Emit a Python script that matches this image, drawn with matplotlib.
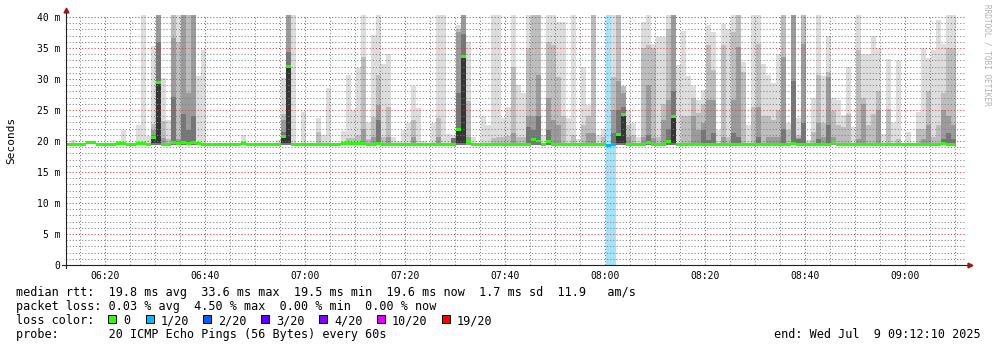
import numpy as np
import matplotlib
matplotlib.use("Agg")
import matplotlib.pyplot as plt
from matplotlib.ticker import MultipleLocator, FuncFormatter
from matplotlib.patches import Rectangle

W, H = 997, 347
MONO = "DejaVu Sans Mono"

# time axis in minutes since midnight, one smoke column per minute
t_start = 6 * 60 + 12 + 10 / 60
t_span = 180

ping_min = 19.3   # lowest ping, bottom of the smoke

# median rtt per minute (ms)
median = [
    19.5, 19.5, 19.5, 19.5, 19.7, 19.7, 19.5, 19.5, 19.5, 19.5,
    19.6, 19.6, 19.5, 19.5, 19.6, 19.6, 19.5, 20.5, 29.4, 19.4,
    19.5, 19.7, 19.6, 19.7, 19.6, 19.8, 19.6, 19.5, 19.5, 19.5,
    19.5, 19.4, 19.4, 19.5, 19.5, 19.6, 19.5, 19.5, 19.5, 19.5,
    19.5, 19.5, 19.5, 20.8, 32.0, 19.5, 19.5, 19.5, 19.5, 19.5,
    19.5, 19.5, 19.5, 19.5, 19.5, 19.6, 19.6, 19.6, 19.6, 19.6,
    19.5, 19.5, 19.6, 19.4, 19.5, 19.5, 19.5, 19.5, 19.5, 19.5,
    19.5, 19.5, 19.5, 19.5, 19.5, 19.5, 19.5, 19.5, 21.8, 33.6,
    19.9, 19.5, 19.5, 19.5, 19.5, 19.5, 19.5, 19.5, 19.5, 19.5,
    19.5, 19.5, 19.5, 20.2, 20.0, 19.5, 19.9, 19.5, 19.5, 19.5,
    19.5, 19.5, 19.5, 19.5, 19.5, 19.5, 19.5, 19.5, 19.3, 19.4,
    21.1, 24.2, 19.5, 19.5, 19.5, 19.5, 19.8, 19.5, 19.5, 19.5,
    19.9, 23.9, 19.4, 19.5, 19.5, 19.5, 19.5, 19.5, 19.5, 19.5,
    19.5, 19.5, 19.5, 19.5, 19.5, 19.5, 19.5, 19.5, 19.5, 19.5,
    19.5, 19.5, 19.5, 19.5, 19.5, 19.6, 19.5, 19.5, 19.4, 19.5,
    19.5, 19.5, 19.5, 19.7, 19.5, 19.5, 19.5, 19.5, 19.5, 19.5,
    19.5, 19.5, 19.5, 19.5, 19.5, 19.5, 19.5, 19.5, 19.5, 19.5,
    19.5, 19.5, 19.5, 19.5, 19.5, 19.6, 19.5, 19.5,
]

# smoke: top of each grey band per minute (0 = no band)
smoke_max = [
    0, 20.2, 0, 0, 0, 0, 0, 0, 0, 0,
    20.0, 21.8, 0, 0, 22.6, 40.5, 20.8, 35.3, 40.5, 30.1,
    23.4, 40.5, 40.5, 40.5, 40.5, 40.5, 30.5, 34.7, 0, 0,
    0, 0, 0, 0, 0, 21.0, 0, 0, 0, 0,
    0, 0, 20.2, 30.1, 40.5, 40.5, 0, 24.7, 0, 0,
    23.7, 21.0, 28.6, 0, 0, 21.6, 30.6, 25.0, 31.7, 40.5,
    22.9, 37.1, 40.5, 32.4, 34.0, 20.6, 20.0, 21.7, 22.9, 28.9,
    25.3, 20.0, 0, 22.9, 40.5, 40.5, 21.2, 21.0, 38.7, 40.5,
    35.9, 20.6, 0, 24.0, 22.6, 40.5, 40.5, 23.7, 25.5, 40.5,
    29.0, 27.7, 40.5, 40.5, 40.5, 21.0, 40.5, 40.5, 39.2, 39.2,
    23.7, 40.5, 20.3, 32.0, 25.8, 40.5, 21.0, 22.0, 0, 40.5,
    40.5, 28.8, 25.0, 22.9, 20.6, 39.2, 40.5, 35.7, 36.8, 36.8,
    40.5, 40.5, 32.3, 37.8, 30.5, 28.8, 26.6, 28.2, 38.7, 37.6,
    21.8, 38.9, 38.0, 40.5, 40.5, 32.8, 22.6, 40.5, 40.5, 32.4,
    30.6, 29.3, 34.0, 40.5, 22.9, 40.5, 23.7, 40.5, 20.2, 27.0,
    40.5, 30.5, 37.0, 27.0, 26.6, 24.2, 31.9, 22.3, 40.5, 34.1,
    34.0, 37.0, 35.0, 21.2, 33.2, 22.9, 33.1, 0, 21.5, 0,
    24.6, 35.0, 33.4, 34.7, 39.5, 35.7, 40.5, 40.5,
]

smoke_2 = [
    0, 0, 0, 0, 0, 0, 0, 0, 0, 0,
    0, 0, 0, 0, 0, 0, 0, 22.8, 40.5, 23.2,
    20.4, 40.5, 35.9, 40.5, 40.5, 40.5, 0, 0, 0, 0,
    0, 0, 0, 0, 0, 0, 0, 0, 0, 0,
    0, 0, 0, 24.4, 40.5, 0, 0, 0, 0, 0,
    21.5, 0, 0, 0, 0, 0, 20.5, 20.5, 21.0, 33.6,
    20.4, 23.9, 30.6, 20.6, 25.5, 0, 0, 0, 0, 23.4,
    0, 0, 0, 0, 23.7, 0, 0, 0, 38.0, 40.5,
    26.4, 0, 0, 0, 0, 20.5, 20.6, 20.6, 20.8, 31.9,
    20.6, 20.6, 35.0, 40.5, 40.5, 0, 35.9, 35.5, 30.4, 24.0,
    0, 21.0, 0, 22.6, 24.0, 40.5, 0, 20.6, 0, 30.4,
    40.5, 28.8, 22.6, 21.0, 0, 35.0, 35.5, 35.0, 20.6, 26.0,
    38.0, 40.5, 0, 24.0, 24.0, 27.0, 24.5, 26.0, 35.5, 31.4,
    0, 35.5, 20.6, 37.6, 40.5, 31.2, 0, 25.5, 35.7, 24.0,
    24.0, 23.4, 25.0, 40.5, 21.8, 40.5, 21.0, 40.5, 0, 21.5,
    30.6, 22.9, 31.2, 24.8, 22.6, 22.3, 24.4, 0, 34.7, 27.0,
    22.6, 24.4, 28.0, 0, 25.2, 0, 20.4, 0, 0, 0,
    22.0, 22.0, 28.0, 20.6, 22.6, 27.7, 35.0, 35.0,
]

smoke_3 = [
    0, 0, 0, 0, 0, 0, 0, 0, 0, 0,
    0, 0, 0, 0, 0, 0, 0, 21.8, 40.5, 20.5,
    0, 36.6, 20.4, 40.5, 27.7, 40.5, 0, 0, 0, 0,
    0, 0, 0, 0, 0, 0, 0, 0, 0, 0,
    0, 0, 0, 23.4, 40.5, 0, 0, 0, 0, 0,
    0, 0, 0, 0, 0, 0, 0, 0, 0, 22.0,
    0, 20.6, 25.8, 0, 20.6, 0, 0, 0, 0, 20.6,
    0, 0, 0, 0, 20.6, 0, 0, 0, 37.5, 40.5,
    20.6, 0, 0, 0, 0, 0, 0, 0, 0, 21.3,
    0, 0, 24.0, 24.0, 30.6, 0, 27.0, 23.4, 22.6, 0,
    0, 0, 0, 0, 21.3, 21.3, 0, 0, 0, 25.0,
    29.6, 27.7, 20.6, 0, 0, 20.6, 29.0, 20.5, 0, 23.4,
    26.6, 40.5, 0, 0, 0, 24.0, 21.8, 22.9, 26.6, 26.6,
    0, 20.6, 0, 26.6, 35.2, 0, 0, 0, 25.5, 0,
    20.6, 20.6, 20.6, 33.6, 0, 40.5, 20.5, 35.7, 0, 0,
    22.9, 20.6, 30.4, 20.6, 0, 0, 0, 0, 20.4, 26.0,
    0, 0, 25.0, 0, 0, 0, 0, 0, 0, 0,
    0, 20.4, 22.6, 0, 0, 25.0, 24.0, 22.6,
]

smoke_4 = [
    0, 0, 0, 0, 0, 0, 0, 0, 0, 0,
    0, 0, 0, 0, 0, 0, 0, 21.0, 36.0, 0,
    0, 27.1, 0, 24.4, 21.8, 24.0, 0, 0, 0, 0,
    0, 0, 0, 0, 0, 0, 0, 0, 0, 0,
    0, 0, 0, 21.5, 34.4, 0, 0, 0, 0, 0,
    0, 0, 0, 0, 0, 0, 0, 0, 0, 0,
    0, 0, 23.4, 0, 0, 0, 0, 0, 0, 0,
    0, 0, 0, 0, 0, 0, 0, 20.5, 27.7, 37.3,
    0, 0, 0, 0, 0, 0, 0, 0, 0, 0,
    0, 0, 22.3, 21.8, 24.0, 0, 21.8, 0, 0, 0,
    0, 0, 0, 0, 0, 0, 0, 0, 0, 21.3,
    25.0, 25.5, 0, 0, 0, 0, 21.0, 0, 0, 0,
    22.0, 28.0, 0, 0, 0, 0, 0, 21.8, 20.2, 21.3,
    0, 0, 0, 21.3, 20.6, 0, 0, 0, 20.6, 0,
    0, 0, 0, 22.0, 0, 29.6, 20.3, 22.9, 0, 0,
    20.3, 0, 22.6, 0, 0, 0, 0, 0, 0, 0,
    0, 0, 0, 0, 0, 0, 0, 0, 0, 0,
    0, 0, 0, 0, 0, 20.4, 21.3, 20.4,
]

loss_minutes = [108, 109]   # minutes with 1/20 loss

loss_labels = ["0", "1/20", "2/20", "3/20", "4/20", "10/20", "19/20"]
loss_colors = ["#26ff00", "#00b8ff", "#0059ff", "#5e00ff", "#7e00ff", "#dd00ff", "#ff0000"]

smoke_colors = ["#dddddd", "#bdbdbd", "#9b9b9b", "#767676"]


def px(x, y):
    return x / W, 1 - y / H


fig = plt.figure(figsize=(W / 100, H / 100), dpi=100)
ax = fig.add_axes([66 / W, 82 / H, 900 / W, 250 / H])
ax.set_xlim(t_start, t_start + t_span)
ax.set_ylim(0, 250 / 6.2)

med = np.array(median)
n = len(med)
x = t_start + np.arange(n)

# loss background
for m in loss_minutes:
    ax.axvspan(t_start + m, t_start + m + 1, color="#a6e3fa", lw=0, zorder=0.5)

# smoke bands, lightest first
for band, col in zip([smoke_max, smoke_2, smoke_3, smoke_4], smoke_colors):
    top = np.array(band)
    h = np.clip(top - ping_min, 0, None)
    ax.bar(x, h, bottom=ping_min, width=1, align="edge", color=col,
           linewidth=0, antialiased=False, zorder=1)

# dark core around a raised median
core = np.where(med > 20.3, med - 19.6, 0)
ax.bar(x, core, bottom=19.6, width=1, align="edge", color="#353535",
       linewidth=0, antialiased=False, zorder=1.2)

# median
med_cols = [loss_colors[1] if i in loss_minutes else loss_colors[0] for i in range(n)]
ax.bar(x, 0.48, bottom=med - 0.24, width=1, align="edge", color=med_cols,
       linewidth=0, antialiased=False, zorder=3)

# grid
ax.xaxis.set_major_locator(MultipleLocator(20))
ax.xaxis.set_minor_locator(MultipleLocator(5))
ax.yaxis.set_major_locator(MultipleLocator(5))
ax.yaxis.set_minor_locator(MultipleLocator(1))
ax.set_axisbelow(False)
ax.grid(which="minor", color=(0.5, 0.5, 0.5, 0.22), linestyle=(0, (1, 2)), linewidth=0.75)
ax.grid(which="major", color=(0.85, 0.25, 0.25, 0.4), linestyle=(0, (1, 2)), linewidth=0.75)

ax.xaxis.set_major_formatter(FuncFormatter(lambda v, p: "%02d:%02d" % (int(v // 60), int(round(v % 60)))))
ax.yaxis.set_major_formatter(FuncFormatter(lambda v, p: "0" if v == 0 else "%d m" % round(v)))
ax.tick_params(which="both", length=0)
ax.tick_params(axis="x", pad=4, labelsize=7)
ax.tick_params(axis="y", pad=4, labelsize=7)
for lab in ax.get_xticklabels() + ax.get_yticklabels():
    lab.set_family(MONO)

for s in ["top", "right", "left", "bottom"]:
    ax.spines[s].set_visible(False)

# axis lines with arrows
ax.plot([0, 0], [-3 / 250, 1 + 4 / 250], transform=ax.transAxes, color="#202020",
        lw=0.8, clip_on=False, zorder=4)
ax.plot([-4 / 900, 1 + 3 / 900], [0, 0], transform=ax.transAxes, color="#202020",
        lw=0.8, clip_on=False, zorder=4)
ax.plot([0], [1 + 5 / 250], transform=ax.transAxes, marker="^", ms=3.5, color="#a01818",
        clip_on=False, zorder=5)
ax.plot([1 + 4 / 900], [0], transform=ax.transAxes, marker=">", ms=3.5, color="#a01818",
        clip_on=False, zorder=5)

fig.text(*px(11, 140), "Seconds", rotation=90, ha="center", va="center",
         family=MONO, fontsize=8)
fig.text(*px(987, 4), "RRDTOOL / TOBI OETIKER", rotation=270, ha="center", va="top",
         family=MONO, fontsize=5.6, color="#b0b0b0")

fs = 8.5
fig.text(*px(16, 296), "median rtt:  19.8 ms avg  33.6 ms max  19.5 ms min  19.6 ms now  1.7 ms sd  11.9   am/s",
         family=MONO, fontsize=fs, va="baseline")
fig.text(*px(16, 310), "packet loss: 0.03 % avg  4.50 % max  0.00 % min  0.00 % now",
         family=MONO, fontsize=fs, va="baseline")
fig.text(*px(16, 324), "loss color:", family=MONO, fontsize=fs, va="baseline")
sq_x = [108, 146, 203, 261, 319, 377, 442]
for sx, lab, col in zip(sq_x, loss_labels, loss_colors):
    fig.add_artist(Rectangle(px(sx, 323), 8 / W, 8 / H, transform=fig.transFigure,
                             facecolor=col, edgecolor="black", lw=0.7))
    fig.text(*px(sx + 15, 324), lab, family=MONO, fontsize=fs, va="baseline")
fig.text(*px(16, 338), "probe:       20 ICMP Echo Pings (56 Bytes) every 60s",
         family=MONO, fontsize=fs, va="baseline")
fig.text(*px(981, 338), "end: Wed Jul  9 09:12:10 2025", family=MONO, fontsize=fs,
         va="baseline", ha="right")

fig.savefig("out.png", dpi=100)
